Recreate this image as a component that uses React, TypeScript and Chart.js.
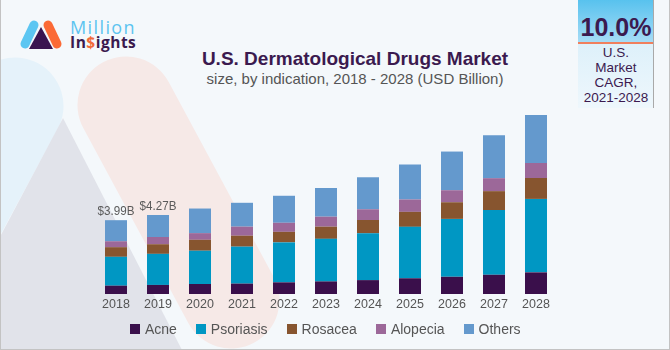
import React, { useEffect, useRef } from "react";
import { Chart, registerables } from "chart.js";

Chart.register(...registerables);

// ---- data ----
const years = ["2018", "2019", "2020", "2021", "2022", "2023", "2024", "2025", "2026", "2027", "2028"];
const acne = [0.45, 0.49, 0.54, 0.56, 0.63, 0.68, 0.75, 0.85, 0.93, 1.04, 1.17];
const psoriasis = [1.56, 1.68, 1.8, 2.0, 2.16, 2.3, 2.53, 2.78, 3.13, 3.5, 3.97];
const rosacea = [0.52, 0.52, 0.59, 0.59, 0.57, 0.66, 0.72, 0.81, 0.9, 1.02, 1.13];
const alopecia = [0.32, 0.39, 0.36, 0.49, 0.49, 0.54, 0.58, 0.67, 0.65, 0.7, 0.81];
const others = [1.14, 1.19, 1.33, 1.29, 1.46, 1.55, 1.73, 1.89, 2.09, 2.32, 2.59];
const totalLabels = ["$3.99B", "$4.27B", "", "", "", "", "", "", "", "", ""];
const seriesNames = ["Acne", "Psoriasis", "Rosacea", "Alopecia", "Others"];
const seriesValues = [acne, psoriasis, rosacea, alopecia, others];
const seriesColors = ["#3a0f4b", "#0097c3", "#87552f", "#9c6899", "#6499cd"];

const SANS = "'Liberation Sans', Arial, sans-serif";

const totalLabelPlugin = {
  id: "totalLabels",
  afterDatasetsDraw(chart: any) {
    const ctx = chart.ctx;
    const meta = chart.getDatasetMeta(chart.data.datasets.length - 1);
    ctx.save();
    ctx.font = "13.5px " + SANS;
    ctx.fillStyle = "#5a5a5a";
    ctx.textAlign = "center";
    ctx.textBaseline = "alphabetic";
    meta.data.forEach((el: any, i: number) => {
      const t = totalLabels[i];
      if (t) {
        ctx.save();
        ctx.translate(el.x, el.y - 5);
        ctx.scale(0.86, 1);
        ctx.fillText(t, 0, 0);
        ctx.restore();
      }
    });
    ctx.restore();
  },
};

export default function App() {
  const canvasRef = useRef<HTMLCanvasElement | null>(null);

  useEffect(() => {
    document.body.style.margin = "0";
    const chart = new Chart(canvasRef.current as HTMLCanvasElement, {
      type: "bar",
      data: {
        labels: years,
        datasets: seriesNames.map((name, i) => ({
          label: name,
          data: seriesValues[i],
          backgroundColor: seriesColors[i],
          borderWidth: 0,
          categoryPercentage: 1,
          barPercentage: 0.524,
        })),
      },
      options: {
        responsive: false,
        animation: false,
        layout: { padding: { left: 95, right: 113, top: 109, bottom: 35 } },
        plugins: {
          legend: { display: false },
          tooltip: { enabled: false },
          title: { display: false },
        },
        scales: {
          x: {
            stacked: true,
            grid: { display: false, drawTicks: false },
            border: { display: false },
            ticks: {
              color: "#555555",
              padding: 3,
              font: { family: SANS, size: 12.5 },
            },
          },
          y: {
            stacked: true,
            display: false,
            min: 0,
            max: 10,
          },
        },
      },
      plugins: [totalLabelPlugin],
    });
    return () => chart.destroy();
  }, []);

  return (
    <div
      style={{
        position: "relative",
        width: 670,
        height: 350,
        overflow: "hidden",
        background: "#f4f8fb",
        boxSizing: "border-box",
        fontFamily: SANS,
      }}
    >
      {/* background shapes */}
      <svg width={670} height={350} style={{ position: "absolute", left: 0, top: 0 }}>
        <line x1={15} y1={106} x2={-90} y2={300} stroke="#e5f2fa" strokeWidth={97} strokeLinecap="round" />
        <polygon points="63,118 182,350 -60,350" fill="#e1e3ea" />
        <line x1={126} y1={105} x2={231} y2={300} stroke="#f6e9e7" strokeWidth={97} strokeLinecap="round" />
      </svg>

      {/* logo */}
      <svg width={70} height={60} style={{ position: "absolute", left: 0, top: 0 }}>
        <line x1={25} y1={44} x2={34} y2={25} stroke="#5cc6f2" strokeWidth={9} strokeLinecap="round" />
        <line x1={48} y1={25} x2={57} y2={44} stroke="#fb6a36" strokeWidth={9} strokeLinecap="round" />
        <polygon points="41,27 29,49 53,49" fill="#3a1450" />
      </svg>
      <div
        style={{
          position: "absolute",
          left: 70,
          top: 18,
          fontFamily: "'Open Sans', sans-serif",
          fontSize: 18,
          lineHeight: "18px",
          letterSpacing: 1.4,
          color: "#5cc4f0",
          whiteSpace: "nowrap",
        }}
      >
        Million
      </div>
      <div
        style={{
          position: "absolute",
          left: 70,
          top: 34,
          fontFamily: "'Open Sans', sans-serif",
          fontSize: 15.5,
          fontWeight: 700,
          lineHeight: "16px",
          letterSpacing: 0.5,
          color: "#3a1a4e",
          whiteSpace: "nowrap",
        }}
      >
        In<span style={{ color: "#f26b3a" }}>$</span>ights
      </div>

      {/* title */}
      <div
        style={{
          position: "absolute",
          left: 155,
          width: 400,
          top: 49,
          textAlign: "center",
          fontSize: 19,
          lineHeight: "19px",
          fontWeight: 700,
          color: "#3b1a4f",
          whiteSpace: "nowrap",
        }}
      >
        U.S. Dermatological Drugs Market
      </div>
      <div
        style={{
          position: "absolute",
          left: 155,
          width: 400,
          top: 71,
          textAlign: "center",
          fontSize: 15,
          lineHeight: "15px",
          color: "#555555",
          whiteSpace: "nowrap",
        }}
      >
        size, by indication, 2018 - 2028 (USD Billion)
      </div>

      {/* CAGR box */}
      <div
        style={{
          position: "absolute",
          left: 578,
          top: 0,
          width: 76,
          height: 108,
          borderRight: "1px solid #a9a9a9",
          boxSizing: "border-box",
          background: "linear-gradient(#d2ecf9, #eef7fc)",
        }}
      >
        <div
          style={{
            position: "absolute",
            left: 0,
            top: 0,
            width: "100%",
            height: 42,
            background: "linear-gradient(#58c2ee, #a6dcf6)",
            borderBottom: "2px solid #f07f5d",
          }}
        />
        <div
          style={{
            position: "absolute",
            left: 0,
            top: 15,
            width: 76,
            textAlign: "center",
            fontSize: 25,
            lineHeight: "25px",
            fontWeight: 700,
            color: "#3b1a4f",
          }}
        >
          10.0%
        </div>
        <div
          style={{
            position: "absolute",
            left: 0,
            top: 45,
            width: 76,
            textAlign: "center",
            fontSize: 13.5,
            lineHeight: "15px",
            color: "#3b1a4f",
          }}
        >
          U.S.
          <br />
          Market
          <br />
          CAGR,
          <br />
          2021-2028
        </div>
      </div>

      {/* chart */}
      <canvas
        ref={canvasRef}
        width={670}
        height={350}
        style={{ position: "absolute", left: 0, top: 0, width: 670, height: 350 }}
      />

      {/* legend */}
      <div
        style={{
          position: "absolute",
          left: 0,
          width: 651,
          top: 320,
          height: 18,
          display: "flex",
          justifyContent: "center",
          alignItems: "center",
          gap: 19.5,
          fontSize: 14,
          lineHeight: "18px",
          color: "#555555",
        }}
      >
        {seriesNames.map((name, i) => (
          <div key={name} style={{ display: "flex", alignItems: "center" }}>
            <span
              style={{
                display: "inline-block",
                width: 10,
                height: 10,
                background: seriesColors[i],
                marginRight: 4.5,
              }}
            />
            <span>{name}</span>
          </div>
        ))}
      </div>

      {/* frame */}
      <div
        style={{
          position: "absolute",
          left: 0,
          top: 0,
          width: 670,
          height: 350,
          boxSizing: "border-box",
          borderLeft: "1px solid #c3c3c3",
          borderRight: "1px solid #c3c3c3",
          borderBottom: "1px solid #c3c3c3",
          pointerEvents: "none",
        }}
      />
    </div>
  );
}
